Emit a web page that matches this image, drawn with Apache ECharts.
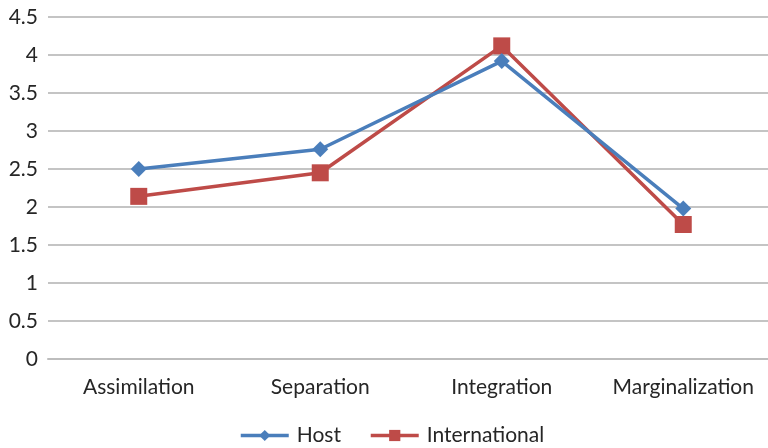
<!DOCTYPE html>
<html>
<head>
<meta charset="utf-8">
<script src="https://cdn.jsdelivr.net/npm/echarts@6/dist/echarts.min.js"></script>
<style>
  html, body { margin: 0; padding: 0; background: #fff; }
  #chart { width: 768px; height: 448px; }
</style>
</head>
<body>
<div id="chart"></div>
<script>
// Acculturation strategy scores by group
const categories = ['Assimilation', 'Separation', 'Integration', 'Marginalization'];
const hostScores = [2.5, 2.76, 3.92, 1.98];
const internationalScores = [2.14, 2.45, 4.12, 1.77];
const yTicks = { min: 0, max: 4.5, interval: 0.5 };

const FONT = 'Lato, "Open Sans", sans-serif';
const chart = echarts.init(document.getElementById('chart'), null, { renderer: 'canvas' });

chart.setOption({
  animation: false,
  backgroundColor: '#ffffff',
  grid: { left: 48, width: 726, top: 17, bottom: 89, outerBoundsMode: 'none', containLabel: false },
  legend: {
    bottom: -3,
    left: 234,
    itemWidth: 48,
    itemHeight: 14,
    itemGap: 28,
    lineStyle: { width: 3.5 },
    textStyle: { fontFamily: FONT, fontSize: 21, color: '#262626', padding: [0, 0, 0, 3] },
    data: ['Host', 'International']
  },
  xAxis: {
    type: 'category',
    data: categories,
    boundaryGap: true,
    axisLine: { show: true, lineStyle: { color: '#bdbdbd', width: 2 } },
    axisTick: { show: false },
    axisLabel: { interval: 0, hideOverlap: false, fontFamily: FONT, fontSize: 21, color: '#262626', margin: 18 }
  },
  yAxis: {
    type: 'value',
    min: yTicks.min,
    max: yTicks.max,
    interval: yTicks.interval,
    axisLine: { show: false },
    axisTick: { show: false },
    axisLabel: { fontFamily: FONT, fontSize: 21, color: '#262626', margin: 10 },
    splitLine: { lineStyle: { color: '#c4c4c4', width: 2 } }
  },
  series: [
    {
      name: 'Host',
      type: 'line',
      data: hostScores,
      symbol: 'diamond',
      symbolSize: 16,
      itemStyle: { color: '#4a7ebb' },
      lineStyle: { color: '#4a7ebb', width: 3.5 },
      z: 3
    },
    {
      name: 'International',
      type: 'line',
      data: internationalScores,
      symbol: 'rect',
      symbolSize: 17,
      itemStyle: { color: '#be4b48' },
      lineStyle: { color: '#be4b48', width: 3.5 },
      z: 2
    }
  ]
});
</script>
</body>
</html>
